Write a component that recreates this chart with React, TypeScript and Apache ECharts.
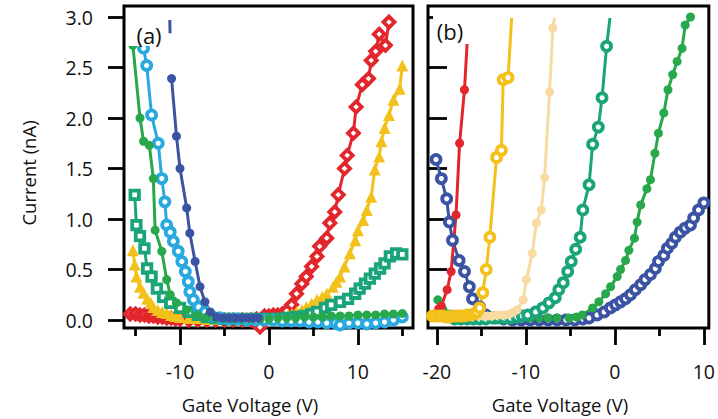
import React, { useEffect, useRef } from "react";
import * as echarts from "echarts";

// ---- data: panel (a) ----
const aRed = [[-15.6,0.06],[-15,0.06],[-14.5,0.05],[-14,0.05],[-13.5,0.04],[-13,0.04],[-12.5,0.03],[-12,0.03],[-11.5,0.02],[-11,0.02],[-10.5,0.01],[-10,0.01],[-9,0.0],[-8,0.0],[-7,0.0],[-6,0.0],[-5,0.0],[-4,0.0],[-3,0.0],[-2,0.0],[-1.4,0.01],[-1.0,-0.07],[-0.5,0.04],[0,0.04],[0.5,0.05],[1,0.05],[1.5,0.06],[2,0.09],[2.55,0.15],[3.1,0.26],[3.7,0.36],[4.2,0.43],[4.8,0.53],[5.4,0.63],[5.7,0.73],[6.5,0.81],[6.85,0.96],[7.4,1.07],[7.8,1.24],[8.5,1.5],[8.8,1.63],[9.5,1.85],[9.8,2.11],[10.5,2.33],[11.2,2.39],[11.5,2.57],[12.0,2.66],[12.4,2.83],[13.1,2.72],[13.5,2.95]];
const aYellow = [[-15.3,0.69],[-15.1,0.55],[-14.9,0.43],[-14.5,0.33],[-14.1,0.27],[-13.7,0.21],[-13.3,0.17],[-13.0,0.13],[-12.5,0.1],[-12,0.08],[-11.5,0.07],[-11,0.05],[-10.5,0.04],[-10,0.03],[-9,0.02],[-8,0.02],[-7,0.01],[-6,0.01],[-5,0.01],[-4,0.01],[-3,0.01],[-2,0.01],[-1,0.01],[0,0.01],[1,0.02],[1.6,0.03],[2.2,0.05],[2.6,0.06],[3.1,0.08],[3.7,0.1],[4.2,0.13],[4.8,0.16],[5.4,0.2],[6,0.23],[6.5,0.26],[7.2,0.33],[7.6,0.38],[8.0,0.43],[8.5,0.53],[9.1,0.66],[9.7,0.79],[10.0,0.89],[10.6,0.99],[11.0,1.09],[11.5,1.22],[11.9,1.49],[12.4,1.62],[12.65,1.77],[13.0,1.9],[13.5,2.03],[14.0,2.18],[14.7,2.29],[15.0,2.52]];
const aTeal = [[-15.1,1.24],[-14.9,0.94],[-14.5,0.83],[-14.0,0.71],[-13.7,0.51],[-13.2,0.43],[-12.6,0.31],[-11.9,0.23],[-11.1,0.17],[-10,0.12],[-9,0.08],[-8,0.05],[-7,0.03],[-6,0.02],[-5,0.01],[-4,0.01],[-3,0.01],[-2,0.01],[-1,0.01],[0,0.01],[1,0.01],[2,0.02],[3,0.03],[4,0.04],[4.8,0.06],[5.4,0.08],[6.3,0.12],[7.0,0.15],[8.0,0.18],[8.9,0.21],[9.7,0.26],[10.2,0.31],[10.8,0.36],[11.35,0.41],[11.9,0.46],[12.5,0.51],[13.0,0.56],[13.6,0.63],[14.3,0.66],[15.0,0.65]];
const aGreen = [[-15.45,2.98],[-15.3,2.72],[-14.5,2.0],[-14.1,1.77],[-13.45,1.73],[-13.0,1.4],[-12.8,0.89],[-12.05,0.68],[-11.5,0.4],[-11.1,0.25],[-10.4,0.17],[-9.25,0.1],[-8,0.05],[-7,0.03],[-6,0.02],[-5,0.02],[-4,0.01],[-3,0.01],[-2,0.01],[-1,0.01],[0,0.01],[1,0.02],[2,0.02],[3,0.02],[4,0.03],[5,0.03],[6,0.03],[7,0.04],[8,0.04],[9,0.04],[10,0.05],[11,0.05],[12,0.05],[13,0.06],[14,0.06],[15,0.065]];
const aLightBlue = [[-14.35,2.98],[-14.1,2.69],[-13.75,2.52],[-13.2,2.03],[-12.45,1.75],[-12.05,1.4],[-11.7,1.17],[-11.5,0.94],[-11.1,0.87],[-10.75,0.78],[-10.2,0.68],[-9.8,0.58],[-9.4,0.48],[-9.07,0.38],[-8.9,0.28],[-8.5,0.2],[-7.9,0.13],[-7.2,0.08],[-6.5,0.04],[-5.5,0.02],[-4.5,0.01],[-3.5,0.01],[-2.5,0.0],[-1.5,0.0],[-0.5,0.0],[0.5,0.0],[1.5,-0.01],[2.5,-0.01],[3.5,-0.01],[4.5,-0.02],[5.5,-0.02],[6.5,-0.03],[7.5,-0.03],[8,-0.05],[9,-0.03],[10,-0.03],[11,-0.04],[12,-0.03],[13,-0.02],[14,0.0],[15,0.03]];
const aDarkBlue = [[-11.15,2.97],[-11.12,2.84],[-11.05,NaN],[-10.95,2.39],[-10.4,1.82],[-10.0,1.5],[-9.25,1.11],[-8.9,0.86],[-8.3,0.58],[-7.75,0.33],[-7.2,0.18],[-6.6,0.08],[-5.9,0.03],[-5.2,0.02],[-4.5,0.02],[-3.8,0.02],[-3.1,0.02],[-2.4,0.02],[-1.7,0.02],[-1.2,0.02]];

// ---- data: panel (b) ----
const bRed = [[-20.3,0.05],[-19.8,0.11],[-19.5,0.14],[-18.85,0.3],[-18.4,0.48],[-17.85,1.04],[-17.45,1.75],[-16.9,2.28],[-16.45,2.98]];
const bYellow = [[-20.5,0.04],[-20.2,0.04],[-19.8,0.04],[-19.4,0.04],[-19,0.03],[-18.6,0.03],[-18.2,0.04],[-17.8,0.04],[-17.4,0.04],[-17,0.04],[-16.6,0.05],[-16.2,0.05],[-15.8,0.06],[-15.5,0.08],[-15.2,0.12],[-14.85,0.27],[-14.45,0.5],[-14.05,0.82],[-13.3,1.61],[-12.75,1.68],[-12.55,2.38],[-12.0,2.4],[-11.6,2.99]];
const bBeige = [[-15.8,0.05],[-15.3,0.04],[-14.8,0.04],[-14.3,0.04],[-13.8,0.04],[-13.3,0.05],[-12.8,0.05],[-12.3,0.05],[-11.8,0.06],[-11.4,0.08],[-11.0,0.1],[-10.3,0.2],[-9.95,0.4],[-9.28,0.66],[-8.83,0.96],[-8.27,1.09],[-7.9,1.41],[-7.34,2.26],[-6.97,2.89],[-6.78,2.99]];
const bTeal = [[-18,0.01],[-17.3,0.01],[-16.6,0.01],[-15.9,0.01],[-15.2,0.01],[-14.5,0.01],[-13.8,0.02],[-13.1,0.02],[-12.4,0.02],[-11.7,0.02],[-11,0.03],[-10.4,0.04],[-9.8,0.05],[-8.9,0.08],[-8.1,0.12],[-7.4,0.17],[-6.7,0.22],[-6.3,0.3],[-5.8,0.37],[-5.3,0.48],[-4.9,0.58],[-4.4,0.7],[-3.9,0.82],[-3.6,1.09],[-2.9,1.34],[-2.5,1.74],[-1.86,1.91],[-1.44,2.2],[-0.93,2.71],[-0.55,2.99]];
const bGreen = [[-19.9,0.2],[-19.3,0.1],[-18.5,0.06],[-17.5,0.04],[-16.5,0.03],[-15.5,0.03],[-14.5,0.03],[-13.5,0.02],[-12.5,0.02],[-11.5,0.02],[-10.5,0.02],[-9.5,0.02],[-8.5,0.02],[-7.5,0.02],[-6.5,0.02],[-5.15,0.02],[-4.3,0.03],[-3.66,0.05],[-2.5,0.12],[-1.8,0.18],[-1.04,0.26],[-0.48,0.33],[0.26,0.43],[0.64,0.5],[1.2,0.59],[1.57,0.69],[2.2,0.81],[2.5,0.97],[2.9,1.14],[3.6,1.3],[4.0,1.39],[4.5,1.65],[4.9,1.85],[5.5,2.05],[5.97,2.28],[6.5,2.43],[7.0,2.56],[7.55,2.69],[7.9,2.92],[8.5,3.0]];
const bDarkBlue = [[-20.1,1.59],[-19.5,1.4],[-18.9,1.2],[-18.6,0.97],[-18.25,0.79],[-17.5,0.59],[-16.9,0.48],[-16.35,0.33],[-16.0,0.21],[-15.2,0.13],[-14.5,0.05],[-13.5,0.02],[-12.5,0.01],[-11.5,0.0],[-10.5,0.0],[-9.5,0.0],[-8.5,0.0],[-7.5,0.0],[-6.5,0.0],[-5.5,0.0],[-4.5,0.0],[-3.6,0.01],[-2.9,0.02],[-2.0,0.05],[-1.2,0.08],[-0.5,0.12],[0.08,0.15],[0.64,0.18],[1.2,0.21],[1.75,0.25],[2.3,0.3],[2.9,0.35],[3.4,0.4],[4.0,0.45],[4.55,0.51],[4.9,0.58],[5.5,0.64],[5.9,0.71],[6.4,0.76],[6.8,0.82],[7.35,0.87],[7.9,0.91],[8.5,0.94],[8.85,1.01],[9.4,1.09],[10.0,1.16]];

// ---- ticks ----
const aMajorTicks = [-10, 0, 10];
const aMinorTicks = [-15, -5, 5, 15];
const bMajorTicks = [-20, -10, 0, 10];
const bMinorTicks = [-15, -5, 5];
const yTicks = [0, 0.5, 1, 1.5, 2, 2.5, 3];

const C = {
  red: "#e3262c",
  yellow: "#f3c11b",
  teal: "#1aa47a",
  green: "#27a84a",
  lightBlue: "#29a9e0",
  darkBlue: "#3a53a3",
  beige: "#f7dba2",
};

const FONT = '"Open Sans", sans-serif';

type Opt = {
  symbol: string;
  size: number;
  hollow: boolean;
  panel: 0 | 1;
  bare?: number[];
};

function mk(name: string, pts: number[][], color: string, o: Opt) {
  const bare = new Set((o.bare || []).map((i) => (i < 0 ? pts.length + i : i)));
  const data = pts.map((p, i) => (bare.has(i) ? { value: p, symbol: "none" } : p));
  return {
    name,
    type: "line",
    xAxisIndex: o.panel === 0 ? 0 : 2,
    yAxisIndex: o.panel,
    data,
    symbol: o.symbol,
    symbolSize: o.size,
    showSymbol: true,
    showAllSymbol: true,
    connectNulls: false,
    lineStyle: { color, width: 3 },
    itemStyle: o.hollow
      ? { color: "#ffffff", borderColor: color, borderWidth: 3.8 }
      : { color, borderWidth: 0 },
    emphasis: { disabled: true },
  };
}

function xAxes(grid: number, min: number, max: number, major: number[], minor: number[]) {
  return [
    {
      gridIndex: grid,
      type: "value",
      position: "bottom",
      min,
      max,
      axisLine: { show: false, onZero: false },
      splitLine: { show: false },
      axisTick: { show: true, customValues: major, length: 17, lineStyle: { color: "#000", width: 2.8 } },
      axisLabel: { show: true, customValues: major, margin: 33, fontSize: 19.5, color: "#111", fontFamily: FONT },
    },
    {
      gridIndex: grid,
      type: "value",
      position: "bottom",
      min,
      max,
      axisLine: { show: false, onZero: false },
      splitLine: { show: false },
      axisTick: { show: true, customValues: minor, length: 8, lineStyle: { color: "#000", width: 2.8 } },
      axisLabel: { show: false },
    },
  ];
}

export default function App() {
  const ref = useRef<HTMLDivElement>(null);
  useEffect(() => {
    if (!ref.current) return;
    const chart = echarts.init(ref.current, undefined, { renderer: "svg" });
    const yMin = -0.079;
    const yMax = 3.109;
    const option = {
      animation: false,
      backgroundColor: "#ffffff",
      grid: [
        { left: 124, top: 6, width: 289, height: 322, show: true, borderColor: "#000", borderWidth: 3, backgroundColor: "transparent" },
        { left: 428, top: 6, width: 282, height: 322, show: true, borderColor: "#000", borderWidth: 3, backgroundColor: "transparent" },
      ],
      xAxis: [
        ...xAxes(0, -16.3, 16.2, aMajorTicks, aMinorTicks),
        ...xAxes(1, -21.0, 10.56, bMajorTicks, bMinorTicks),
      ],
      yAxis: [
        {
          gridIndex: 0,
          type: "value",
          position: "left",
          min: yMin,
          max: yMax,
          axisLine: { show: false, onZero: false },
          splitLine: { show: false },
          axisTick: { show: true, customValues: yTicks, length: 16, lineStyle: { color: "#000", width: 2.8 } },
          axisLabel: {
            show: true,
            customValues: yTicks,
            margin: 31,
            fontSize: 19.5,
            color: "#111",
            fontFamily: FONT,
            formatter: (v: number) => v.toFixed(1),
          },
        },
        {
          gridIndex: 1,
          type: "value",
          position: "left",
          min: yMin,
          max: yMax,
          axisLine: { show: false, onZero: false },
          splitLine: { show: false },
          axisTick: { show: true, inside: true, customValues: yTicks, length: 19, lineStyle: { color: "#000", width: 2.8 } },
          axisLabel: { show: false },
        },
      ],
      series: [
        mk("a-red", aRed, C.red, { symbol: "diamond", size: 11, hollow: true, panel: 0 }),
        mk("a-yellow", aYellow, C.yellow, { symbol: "triangle", size: 12, hollow: false, panel: 0 }),
        mk("a-teal", aTeal, C.teal, { symbol: "rect", size: 8.5, hollow: true, panel: 0 }),
        mk("a-lightblue", aLightBlue, C.lightBlue, { symbol: "circle", size: 9, hollow: true, panel: 0, bare: [0] }),
        mk("a-green", aGreen, C.green, { symbol: "circle", size: 9, hollow: false, panel: 0, bare: [0] }),
        mk("a-darkblue", aDarkBlue, C.darkBlue, { symbol: "circle", size: 9, hollow: false, panel: 0, bare: [0, 1] }),
        mk("b-darkblue", bDarkBlue, C.darkBlue, { symbol: "circle", size: 9, hollow: true, panel: 1 }),
        mk("b-green", bGreen, C.green, { symbol: "circle", size: 9, hollow: false, panel: 1 }),
        mk("b-teal", bTeal, C.teal, { symbol: "circle", size: 9, hollow: true, panel: 1, bare: [-1] }),
        mk("b-red", bRed, C.red, { symbol: "circle", size: 9, hollow: false, panel: 1, bare: [-1] }),
        mk("b-beige", bBeige, C.beige, { symbol: "circle", size: 9, hollow: false, panel: 1, bare: [-1] }),
        mk("b-yellow", bYellow, C.yellow, { symbol: "circle", size: 9, hollow: true, panel: 1, bare: [-1] }),
      ],
      graphic: [
        { type: "rect", z: 100, shape: { x: 127, y: 8, width: 40, height: 38 }, style: { fill: "#ffffff" } },
        { type: "text", z: 101, x: 149, y: 35, style: { text: "(a)", font: `22px ${FONT}`, fill: "#111", align: "center", verticalAlign: "middle" } },
        { type: "rect", z: 100, shape: { x: 433, y: 8, width: 40, height: 36 }, style: { fill: "#ffffff" } },
        { type: "text", z: 101, x: 450, y: 31, style: { text: "(b)", font: `22px ${FONT}`, fill: "#111", align: "center", verticalAlign: "middle" } },
        { type: "text", z: 101, x: 28, y: 173, rotation: Math.PI / 2, style: { text: "Current (nA)", font: `18.5px ${FONT}`, fill: "#111", align: "center", verticalAlign: "middle" } },
        { type: "text", z: 101, x: 250, y: 404, style: { text: "Gate Voltage (V)", font: `18.5px ${FONT}`, fill: "#111", align: "center", verticalAlign: "middle" } },
        { type: "text", z: 101, x: 560, y: 404, style: { text: "Gate Voltage (V)", font: `18.5px ${FONT}`, fill: "#111", align: "center", verticalAlign: "middle" } },
      ],
    };
    chart.setOption(option as any);
    return () => chart.dispose();
  }, []);
  return (
    <div
      ref={ref}
      style={{ position: "fixed", left: 0, top: 0, width: 718, height: 419, background: "#fff" }}
    />
  );
}
